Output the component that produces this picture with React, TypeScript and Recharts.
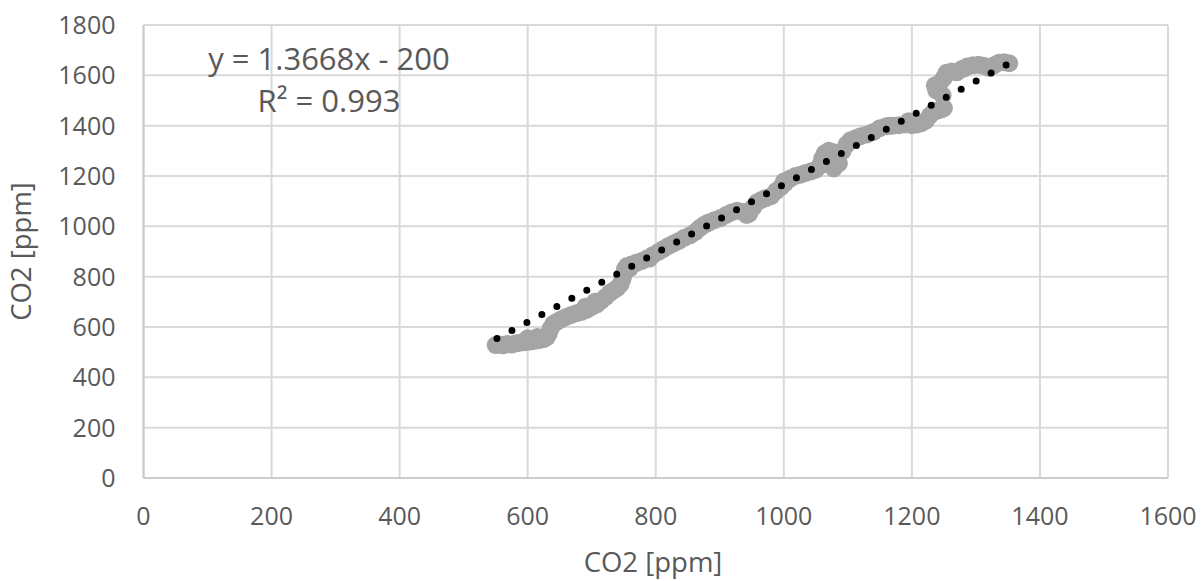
import React from "react";
import { ScatterChart, Scatter, XAxis, YAxis, CartesianGrid } from "recharts";

document.body.style.margin = "0";

const FONT = "'Open Sans', sans-serif";
const TEXT = "#595959";

const co2X = [
  550, 556, 562, 568, 575, 582, 590, 597, 604, 611, 618, 625, 630, 633, 636, 640, 645, 652, 660, 668,
  676, 684, 692, 700, 708, 715, 722, 728, 734, 740, 745, 748, 750, 752, 755, 762, 770, 778, 786, 795,
  804, 812, 820, 828, 836, 845, 854, 862, 868, 875, 883, 892, 901, 910, 918, 927, 935, 942, 946, 952,
  958, 965, 972, 980, 988, 995, 1002, 1010, 1018, 1026, 1034, 1042, 1050, 1056, 1060, 1064, 1070, 1076, 1080, 1082,
  1078, 1086, 1092, 1098, 1104, 1112, 1120, 1130, 1140, 1150, 1160, 1170, 1180, 1190, 1200, 1208, 1215, 1222, 1228, 1234,
  1240, 1246, 1250, 1248, 1238, 1236, 1244, 1250, 1254, 1262, 1270, 1278, 1286, 1295, 1304, 1312, 1320, 1328, 1336, 1344,
  1352, 600, 615, 690, 705, 760, 790, 880, 1000, 1165, 1195, 1282,
];
const co2Y = [
  528, 530, 527, 532, 530, 535, 538, 540, 542, 545, 548, 552, 560, 575, 595, 612, 620, 630, 640, 648,
  655, 660, 668, 680, 690, 705, 720, 735, 745, 755, 770, 790, 810, 830, 842, 848, 855, 862, 872, 885,
  898, 910, 922, 932, 942, 955, 965, 978, 992, 1005, 1015, 1025, 1033, 1045, 1055, 1062, 1058, 1045, 1050, 1075,
  1095, 1105, 1112, 1120, 1140, 1155, 1172, 1190, 1200, 1205, 1212, 1218, 1225, 1240, 1270, 1290, 1300, 1295, 1280, 1250,
  1230, 1250, 1300, 1325, 1342, 1350, 1358, 1365, 1375, 1390, 1398, 1400, 1402, 1405, 1402, 1405, 1410, 1420, 1440, 1455,
  1460, 1465, 1470, 1520, 1540, 1560, 1570, 1590, 1610, 1615, 1612, 1625, 1635, 1640, 1642, 1638, 1630, 1640, 1650, 1652,
  1648, 555, 560, 680, 700, 835, 872, 1012, 1178, 1400, 1418, 1628,
];

// linear trend end points (y = 1.3668x - 200)
const trendX = [552, 1350];
const trendY = [554, 1645];

const xTicks = [0, 200, 400, 600, 800, 1000, 1200, 1400, 1600];
const yTicks = [0, 200, 400, 600, 800, 1000, 1200, 1400, 1600, 1800];

const points = co2X.map((x, i) => ({ x, y: co2Y[i] }));
const trend = trendX.map((x, i) => ({ x, y: trendY[i] }));

const tickStyle = { fill: TEXT, fontSize: 25, fontFamily: FONT };

export default function App() {
  return (
    <div style={{ position: "relative", width: 1203, height: 581, background: "#fff" }}>
      <ScatterChart width={1203} height={581} margin={{ top: 25, right: 35, bottom: 0, left: 0 }}>
        <CartesianGrid stroke="#d9d9d9" strokeWidth={2} />
        <XAxis
          type="number"
          dataKey="x"
          domain={[0, 1600]}
          ticks={xTicks}
          height={103}
          tick={tickStyle}
          tickLine={false}
          tickMargin={23}
          axisLine={{ stroke: "#cccccc", strokeWidth: 2 }}
        />
        <YAxis
          type="number"
          dataKey="y"
          domain={[0, 1800]}
          ticks={yTicks}
          width={143.5}
          tick={tickStyle}
          tickLine={false}
          tickMargin={22}
          axisLine={{ stroke: "#cccccc", strokeWidth: 2 }}
        />
        <Scatter
          data={points}
          isAnimationActive={false}
          shape={(p: any) => <circle cx={p.cx} cy={p.cy} r={9} fill="#a5a5a5" />}
        />
        <Scatter
          data={trend}
          isAnimationActive={false}
          line={{ stroke: "#000", strokeWidth: 7, strokeDasharray: "0 17", strokeLinecap: "round" }}
          shape={() => null}
        />
      </ScatterChart>

      {/* titles and trendline label */}
      <svg
        width={1203}
        height={581}
        style={{ position: "absolute", left: 0, top: 0, pointerEvents: "none" }}
        fontFamily={FONT}
        fill={TEXT}
      >
        <text x={653} y={572} fontSize={27.5} textAnchor="middle">
          CO2 [ppm]
        </text>
        <text x={31} y={251.5} fontSize={27.5} textAnchor="middle" transform="rotate(-90 31 251.5)">
          CO2 [ppm]
        </text>
        <text x={329} y={70} fontSize={31} textAnchor="middle">
          y = 1.3668x - 200
        </text>
        <text x={329} y={112} fontSize={31} textAnchor="middle">
          R² = 0.993
        </text>
      </svg>
    </div>
  );
}
